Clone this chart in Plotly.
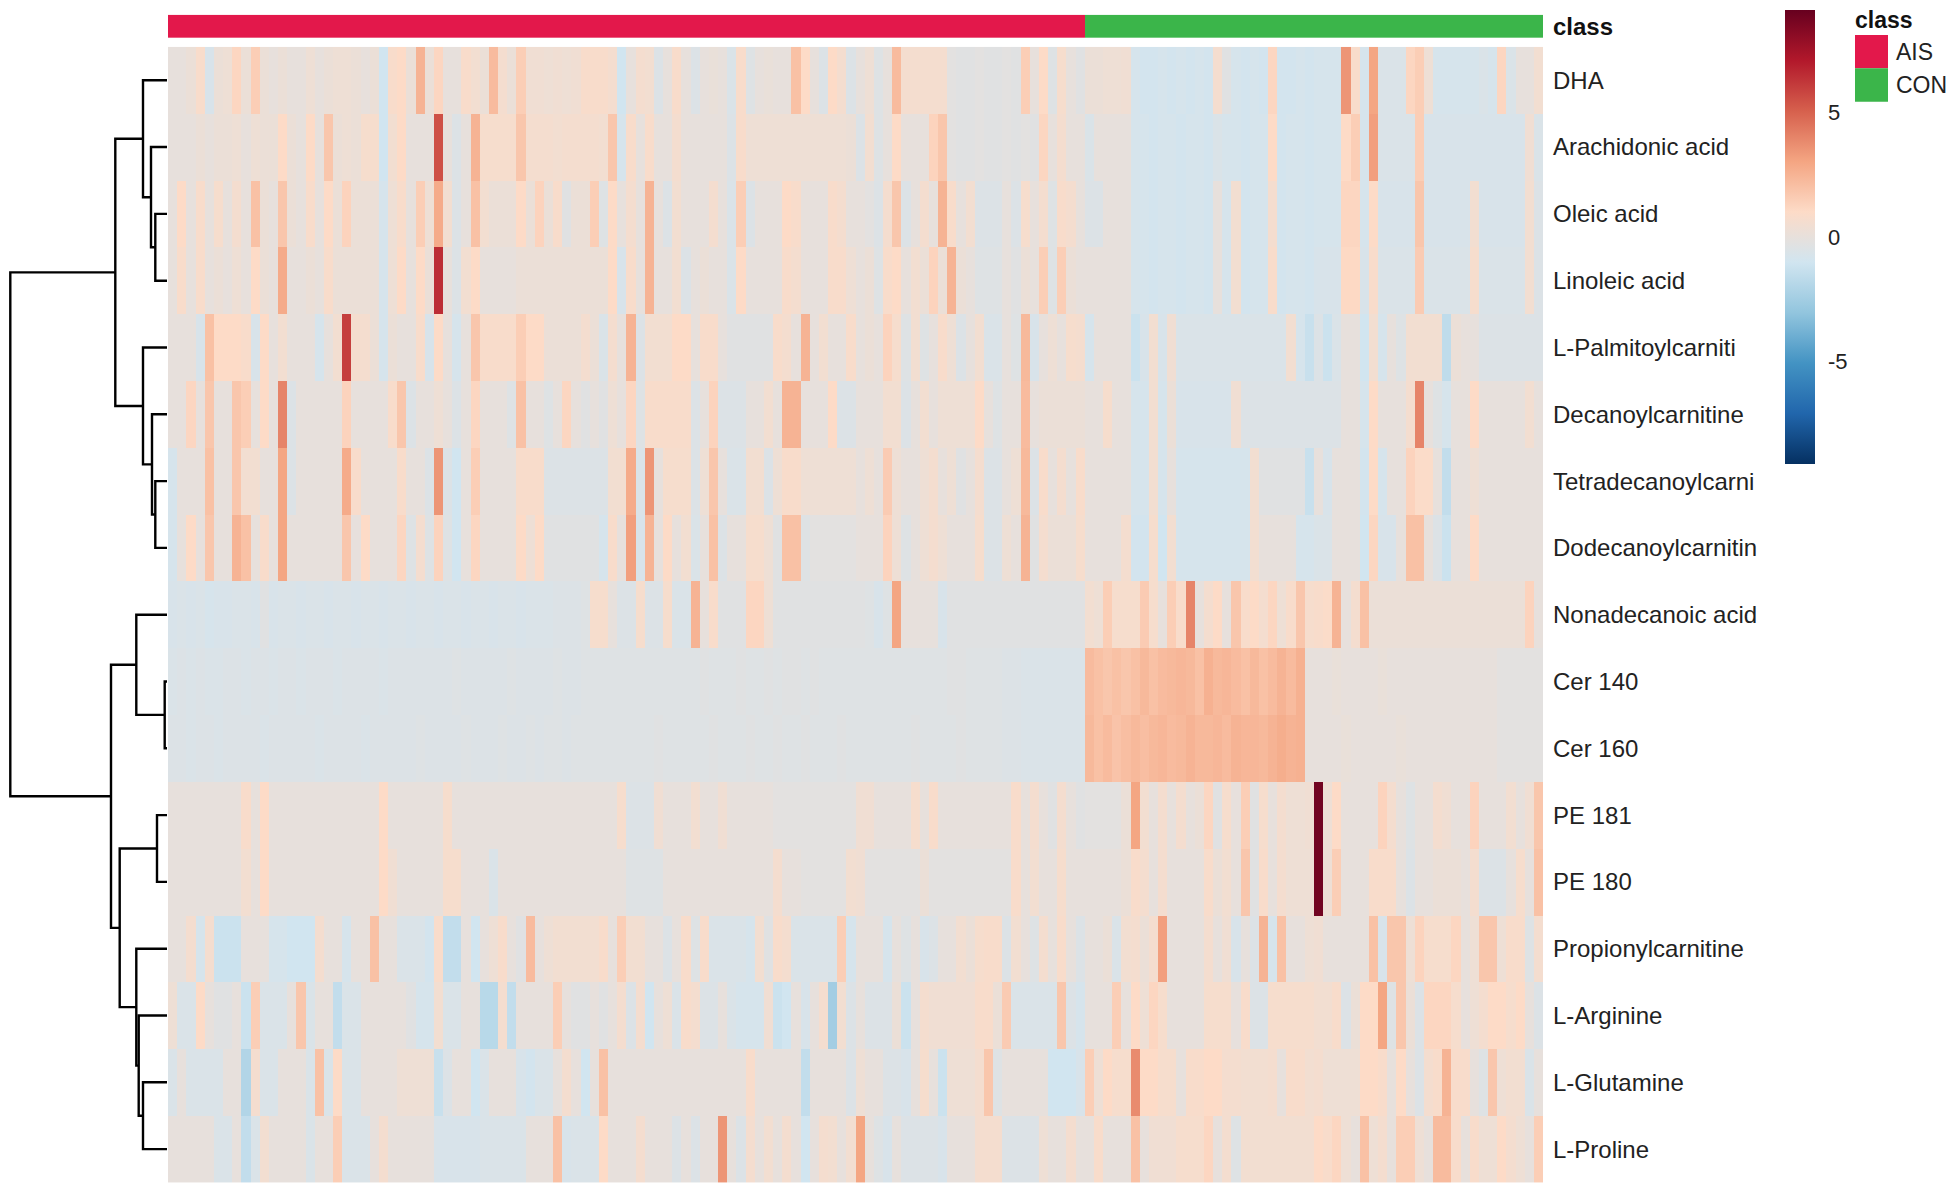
import plotly.graph_objects as go

# ---------------- data ----------------
row_labels = ["DHA", "Arachidonic acid", "Oleic acid", "Linoleic acid", "L-Palmitoylcarniti",
              "Decanoylcarnitine", "Tetradecanoylcarni", "Dodecanoylcarnitin", "Nonadecanoic acid",
              "Cer 140", "Cer 160", "PE 181", "PE 180", "Propionylcarnitine", "L-Arginine",
              "L-Glutamine", "L-Proline"]

n_ais = 100
n_con = 50
class_names = ["AIS", "CON"]
class_colors = ["#E3184B", "#3BB54A"]

dha = [0, 0, 0.2, 0.8, -0.7, 0.2, 0.3, 1.2, 0.2, 1.5, 0.2, 0, 0.2, 0, 0, 0.3, 0, 0.2, 0.3, 0.3, 0.2, 0, 0.2, -1, 0.8,
       1, 0.2, 2.5, 0.2, 1.2, 0, 0, 0.8, 0.5, 0.2, 2.2, 0.6, 0.2, 1.5, 0.4, 0.4, 0.3, 0.4, 0.3, 0.4, 0.8, 0.8, 0.8, 0.6, -1,
       0, 0.6, 0.5, -0.5, 0, 0.8, 0, -0.5, 0, 0.1, 0, -0.6, 0.8, -0.4, 0, 0.1, 0, 0, 2, 1, 0, -0.5, 1, 0.6, -0.5,
       0, 0.3, -0.4, 0, 2.2, 0.6, 0.6, 0.6, 0.6, 0.6, -0.2, -0.3, -0.3, -0.2, -0.3, -0.3, -0.2, -0.3, 1.5, 0, 1, -0.4, 0.7, 0, -0.3,
       0.2, 0.2, 0.3, 0.3, 0.4, -0.8, -0.9, -0.9, -0.8, -0.9, -0.8, -0.9, -0.8, -0.9, 0.6, -0.3, -0.8, -0.9, -0.8, -0.9, 1.2, -0.9, -0.9, -0.8, -0.9,
       -0.8, -0.8, -0.8, 3.5, 0.8, -0.8, 3, -0.6, -0.6, -0.6, 1.2, 1.5, 0.3, -0.8, -0.8, -0.8, -0.8, -0.8, -0.6, -0.8, 1.2, -0.6, 0, 0, 0.5]

arachidonic = [0, 0, 0, 0.2, 0, 0.2, 0.2, 0.3, 0, 0.3, 0.2, 0.2, 1, 0.2, 0, 1, 0, 1.8, 0.2, 0.3, 0.2, 0.7, 0.7, -1, 0.5,
               1, 0, 0, 0, 5.5, 0, -0.5, 0, 2.5, 0.7, 0.7, 0.7, 0.7, 1.8, 0.6, 0.6, 0.6, 0.5, 0.6, 0.6, 0.6, 0.6, 0.5, 1.8, -0.8,
               0.8, 0, 0.8, 0, 0, 0.6, 0, 0, 0, 0, 0, -0.5, 0.8, 0.3, 0.3, 0.3, 0.3, 0.3, 0.3, 0.3, 0.3, 0.3, 0.3, 0.3, 0.2,
               -0.5, 0.5, -0.4, 0, 1, 0, 0, 0, 1.3, 1.8, -0.2, -0.3, -0.3, -0.2, -0.3, -0.3, -0.2, -0.3, -0.2, -0.3, 1.2, 0, 0.6, 0, 0,
               -0.6, 0, 0, 0, 0, -0.8, -0.8, -0.9, -0.8, -0.8, -0.9, -0.8, -0.8, -0.9, -0.6, -0.8, -0.8, -0.9, -0.8, -0.8, 1, -0.9, -0.8, -0.8, -0.9,
               -0.8, -0.8, -0.8, 1, 1.5, -0.8, 3.2, -0.6, -0.6, -0.6, -0.6, 1.5, -0.7, -0.7, -0.7, -0.7, -0.7, -0.7, -0.7, -0.7, -0.7, -0.7, -0.7, 0.4, -0.6]

oleic = [0, 1, 0, 0.8, 0, 0.7, 0, 0.6, 0, 2, 0.2, 0, 1.8, 0.2, 0, 0.8, 0, 1, 0.2, 1.3, 0.2, 0.2, 0.2, -0.8, 0.3,
         0.8, 0, 1.5, 0.3, 2.8, 0.5, -0.5, 0, 2, 0.5, 0.2, 0.2, 0.2, 1, 0.2, 1.3, 0.2, 0.8, -0.3, 0.2, 0.2, 1.5, -0.4, 1, 0,
         0.6, 0, 2.5, 0, -0.5, 0.5, 0, 0, 0, 0.6, 0, -0.6, 1.5, -0.5, 0, 0, 0, 1, 0.8, 0, 0, 0, 0.8, 0.6, 0,
         0, -0.2, -0.5, 0.6, 1.8, -0.5, 0, 0.6, 0, 2.5, 0.8, 0, 0.5, -0.5, -0.5, -0.5, 0, -0.5, 0.7, 0, 0.6, -0.4, 0.8, 0.6, 0,
         -0.5, -0.5, 0, 0, 0, -0.8, -0.8, -0.9, -0.8, -0.8, -0.9, -0.8, -0.8, -0.9, 0, -0.8, 0.5, -0.9, -0.8, -0.8, 0.6, -0.9, -0.8, -0.8, -0.9,
         -0.8, -0.8, -0.8, 1.2, 1.2, -0.8, 1, -0.7, -0.7, -0.7, -0.7, 1.8, -0.7, -0.7, -0.7, -0.7, -0.7, 0.5, -0.7, -0.7, -0.7, -0.7, -0.7, 0.5, -0.5]

linoleic = [0, 0.8, 0, 0.8, 0, 0.2, 0, 0.3, 0, 1, 0.2, 0, 2.8, 0, 0, 0.2, 0, 0.8, 0.2, 0.2, 0.2, 0.2, 0.2, -0.8, 0.3,
            1, 0, 1, 0.2, 6.5, 0, -0.5, 0.5, 1, 0, 0, 0, 0, 0.2, 0.2, 0.2, 0.2, 0.2, 0.2, 0.2, 0.2, 0.2, 0.2, 1, -0.7,
            0.8, 0, 2.5, 0, 0, 0.5, -0.5, 0, 0.2, 0, 0, -0.6, 1, 0, 0, 0, 0, 0.8, 0.6, 0, 0, 0, 0.8, 0.8, 0.3,
            0, 0.2, -0.4, 0.8, 1, 0, 0.5, 0.2, 1.3, 0.2, 2.5, 0.2, 0, -0.4, -0.4, -0.4, 0, -0.3, 0.2, 0, 1.5, -0.4, 1.5, 0.2, 0,
            0, 0, 0, 0, 0, -0.8, -0.8, -0.9, -0.8, -0.8, -0.9, -0.8, -0.8, -0.9, 0, -0.8, 0.5, -0.9, -0.8, -0.8, 0.8, -0.9, -0.8, -0.8, -0.9,
            -0.7, -0.7, -0.7, 1.1, 1.1, -0.7, 0.8, -0.6, -0.6, -0.6, -0.6, 1.6, -0.6, -0.6, -0.6, -0.6, -0.6, 0.7, -0.6, -0.6, -0.6, -0.6, -0.6, 0.5, -0.5]

palmitoyl = [0, 0, 0, -0.7, 2, 1, 1, 1, 0.8, -0.7, 1, 0, 0.5, 0, 0, 0, -0.8, 0, 0.5, 6, 0.6, 0.6, 0.2, -0.8, 0.2,
             0, 0, 0.8, -0.7, 1, 0, -0.8, 0, 1.8, 0.8, 0.8, 0.8, 0.8, 1.5, 1, 1, 0.2, 0.2, 0.2, 0.2, 0.6, 0.2, -0.6, 0.6, 0,
             2.5, -0.5, 0.5, 0.5, 0.5, 1, 1, 0, 0.8, 0.8, 0, -0.3, -0.3, -0.3, -0.3, -0.3, 0.8, 0.6, 0, 2.5, 0, 0.5, 0, 0, 0.8,
             0, 0.2, 0, 1.3, 0.7, -0.4, 0.5, -0.4, 0, 0.8, 0.3, -0.5, 0, 0.5, -0.6, -0.6, 0, -0.4, 2.3, -0.7, 0, 0.3, 0, 0.7, 0.6,
             -0.8, 0, 0, 0, 0, -1.2, -0.7, 0.5, -0.7, 0.4, -0.6, -0.6, -0.6, -0.6, -0.6, -0.6, -0.6, -0.6, -0.6, -0.6, -0.6, -0.6, 0.5, -0.8, -1.3,
             -0.5, -1.2, -0.6, 0, 0, -1, 0.5, -0.8, 0, -0.4, 0.5, 0.5, 0.5, 0.5, -1.6, 0.2, 0, 0, -0.5, -0.5, -0.5, -0.5, -0.5, -0.5, -0.5]

decanoyl = [0, 0, 1.2, 0, 1.8, 0, 0, 1.8, 1.5, 0, 1, 0, 4, -0.5, 0, 0, 0, 0, 0, 1.3, 0, 0, 0, 0, 0.8,
            1.8, -0.5, 0, 0, 0.3, 0, -0.5, 0, 1.2, 0, 0, 0, -0.4, 2, 0, 0, -0.4, 0, 1.2, 0, -0.3, 0, -0.3, 0.3, 0,
            1.2, -0.4, 0.8, 0.8, 0.8, 0.8, 0.8, -0.5, 0, 1.3, -0.5, -0.5, -0.5, 0, 0, 0.5, 0, 2.5, 2.5, 0, 0, 0, 1, -0.5, -0.5,
            0, 0, 0, 0.5, 0.5, -0.5, 0, 0.5, 0, 0.3, 0.3, 0.3, 0.3, 1, 0, -0.4, 0, 0, 2.2, 0, 0.2, 0.2, 0.2, 0.2, 0.2,
            0, 0, 0.7, 0, 0, -0.8, -0.8, 0.5, -0.8, 0.2, -0.7, -0.7, -0.7, -0.7, -0.7, -0.7, 0.4, -0.5, -0.5, -0.5, -0.5, -0.5, -0.5, -0.5, -0.5,
            -0.5, -0.5, -0.5, 0, 0, -0.8, 1, 0, 0, 0, 0.6, 4, 0, -0.4, -0.8, 0, 0, 1, 0, 0, 0, 0, 0, 0.5, 0]

tetradecanoyl = [-0.8, 0, 0, 0, 2, 0, 0, 1.8, 0.5, 0.5, 0, 0, 3, -0.5, 0, 0, 0, 0, 0, 2.8, 0.8, 0, 0, 0, 0,
                 0.8, 0, 0, -0.5, 3.5, -0.5, -1, 0, 1.5, 0, 0, 0, 0, 0.8, 0.8, 0.8, -0.5, -0.5, -0.5, -0.5, -0.5, -0.5, -0.5, 0.5, 0.5,
                 2.8, -0.6, 3.5, 0, 0.7, 0.7, 0.7, -0.5, 0.3, 1.8, 0, -0.6, -0.6, 0.5, 0.5, -0.5, 0.3, 0.8, 0.8, 0.3, 0.3, 0.3, 0.3, 0.3, 0.3,
                 0, 0.3, 0, 1.6, 0.3, 0, 0, 0.3, 0.6, 0, 0.3, -0.3, 0, 0.6, -0.5, -0.5, 0, 0.3, 2.3, -0.5, 0.8, 0, 0.6, 0, 0.8,
                 0, 0, 0, 0, 0, -0.8, -0.8, 0.5, -0.8, 0, -0.8, -0.8, -0.8, -0.8, -0.8, -0.8, -0.8, -0.8, 0.5, -0.3, -0.3, -0.3, -0.3, -0.3, -1.3,
                 0, -0.7, 0, 0, 0, -0.9, 1, -0.8, 0, 0, 1.3, 0.9, 0.9, 0, -1.5, 0, 0, 0.3, 0, 0, 0, 0, 0, 0, 0]

dodecanoyl = [-0.8, 0, 1, 0, 1.8, 0, 0, 2.5, 2, 0, 0.8, 0, 3, 0, 0, 0, 0, 0, 0, 1.8, 0, 1, 0, 0, 0,
              1.2, -0.4, 0.6, -0.4, 1.3, -0.4, -1, 0, 1.2, 0, 0, 0, 0, 1, 0.3, 1, -0.3, -0.3, -0.3, -0.3, -0.3, -0.3, -0.8, 0.8, 0,
              3.2, -0.7, 2.5, 0, 1, 0, 0.5, -0.6, 0, 2, -0.5, 0, 0, 0.7, 0.7, 0.3, -0.3, 2, 2, -0.4, -0.2, -0.2, -0.2, -0.2, -0.2,
              0, 0, 0, 1.3, 0.3, -0.4, 0, 0.3, 0.6, 0.3, 0, 0, 0, 0.7, -0.5, -0.5, 0.3, 0, 2.5, -0.3, 0.6, 0.2, 0.2, 0.2, 0.7,
              0, 0, 0, 0, 0.6, -0.9, -0.9, 0.7, -1, 0.5, -0.8, -0.8, -0.8, -0.8, -0.8, -0.8, -0.8, -0.8, 0.5, 0, 0, 0, 0, -0.8, -0.8,
              -0.6, -0.6, 0, 0, 0, -1, 1.2, -0.7, -0.7, 0, 2, 2, 0, -0.5, -1.2, 0, 0, 1, 0, 0, 0, 0, 0, 0, 0]

nonadecanoic = [-0.7, -0.6, -0.7, -0.6, -0.8, -0.7, -0.7, -0.6, -0.6, -0.7, -0.3, -0.7, -0.6, -0.6, -0.7, -0.6, -0.6, -0.7, -0.6, -0.6, -0.7, -0.6, -0.6, -0.7, -0.6,
                -0.6, -0.7, -0.6, -0.6, -0.7, -0.6, -0.6, -0.7, -0.6, -0.6, -0.7, -0.6, -0.6, -0.7, -0.6, -0.6, -0.6, -0.5, -0.5, -0.5, -0.4, 0.7, 0.7, 0, -0.5,
                -0.5, 0.7, -0.5, -0.5, 0.7, -0.6, -0.6, 2.5, 0, 0.8, -0.3, -0.3, -0.3, 1.2, 1.2, 0.3, -0.3, -0.3, -0.3, -0.3, -0.3, -0.3, -0.3, -0.3, -0.3,
                -0.3, -0.4, -0.7, -0.4, 3, 0, 0, 0, 0, -0.7, -0.3, -0.3, -0.3, -0.3, -0.3, -0.3, -0.3, -0.3, -0.3, -0.3, -0.3, -0.3, -0.3, -0.3, -0.3,
                0.5, 0.3, 1.5, 0.7, 0.7, 0.7, 1.6, 0.7, 0, 1.5, 0.8, 4, 0, 0.6, 1, 0, 1.8, 0.8, 1, 0.6, 1.2, 0.3, 0.8, 1.8, 0.7,
                0.8, 0.9, 2.5, 0, 0.6, 2, 0.2, 0.2, 0.2, 0.2, 0.2, 0.2, 0.2, 0.2, 0.2, 0.2, 0.2, 0.2, 0.2, 0.2, 0.2, 0.2, 0.2, 1.3, 0]

cer140 = [-0.6, -0.5, -0.6, -0.5, -0.6, -0.6, -0.5, -0.5, -0.6, -0.5, -0.5, -0.6, -0.5, -0.5, -0.6, -0.5, -0.5, -0.5, -0.6, -0.5, -0.5, -0.5, -0.5, -0.6, -0.5,
          -0.5, -0.5, -0.5, -0.5, -0.5, -0.5, -0.4, -0.5, -0.5, -0.5, -0.5, -0.5, -0.4, -0.5, -0.5, -0.5, -0.5, -0.4, -0.5, -0.5, -0.4, -0.4, -0.4, -0.4, -0.4,
          -0.4, -0.4, -0.4, -0.4, -0.4, -0.4, -0.4, -0.4, -0.3, -0.4, -0.4, -0.4, -0.3, -0.4, -0.4, -0.3, -0.4, -0.3, -0.3, -0.4, -0.3, -0.4, -0.4, -0.4, -0.4,
          -0.4, -0.4, -0.4, -0.4, -0.4, -0.4, -0.4, -0.4, -0.4, -0.4, -0.3, -0.3, -0.4, -0.4, -0.4, -0.4, -0.5, -0.5, -0.6, -0.6, -0.6, -0.6, -0.6, -0.6, -0.6,
          2.2, 2, 1.8, 2, 1.8, 2, 2.3, 2, 2.2, 2.3, 2.4, 2.3, 2, 2.6, 2.3, 2.4, 2.2, 2, 2.3, 2, 2.2, 2.5, 2.2, 2.6, 0,
          0, 0, 0.1, 0, 0, 0, 0, 0.1, 0, 0, 0, 0, 0, 0, 0, 0, 0, 0, 0, 0, -0.2, -0.2, -0.2, -0.2, -0.2]

cer160 = [-0.5, -0.5, -0.6, -0.5, -0.5, -0.6, -0.5, -0.5, -0.5, -0.5, -0.6, -0.5, -0.5, -0.5, -0.5, -0.5, -0.6, -0.5, -0.5, -0.5, -0.5, -0.6, -0.5, -0.5, -0.5,
          -0.5, -0.5, -0.4, -0.5, -0.5, -0.5, -0.5, -0.4, -0.5, -0.5, -0.5, -0.4, -0.5, -0.5, -0.4, -0.5, -0.4, -0.4, -0.5, -0.4, -0.4, -0.4, -0.4, -0.4, -0.4,
          -0.4, -0.4, -0.4, -0.3, -0.4, -0.4, -0.4, -0.4, -0.4, -0.3, -0.4, -0.4, -0.4, -0.3, -0.4, -0.4, -0.3, -0.4, -0.4, -0.3, -0.4, -0.4, -0.4, -0.3, -0.4,
          -0.4, -0.4, -0.4, -0.4, -0.4, -0.4, -0.3, -0.4, -0.4, -0.4, -0.4, -0.3, -0.4, -0.4, -0.4, -0.4, -0.5, -0.5, -0.6, -0.6, -0.6, -0.6, -0.6, -0.6, -0.6,
          2.3, 2, 2.2, 1.9, 2.1, 2.3, 2.1, 2.3, 2.4, 2.2, 2.3, 2.5, 2.3, 2.3, 2.4, 2.2, 2.5, 2.4, 2.4, 2.3, 2.5, 2.7, 2.5, 2.6, 0,
          0, 0, 0, 0.1, 0, 0, 0, 0, 0, 0.1, 0, 0, 0, 0, 0, 0, 0, 0, 0, 0, -0.2, -0.2, -0.2, -0.2, -0.2]

pe181 = [0, 0, 0, 0, 0, 0, 0, 0, 0.8, 0, 1, 0, 0, 0, 0, 0, 0, 0, 0, 0, 0, 0, 0, 1, 0,
         0, 0, 0, 0, 0, 0.7, 0, 0, 0, 0, 0, 0, 0, 0, 0, 0, 0, 0, 0, 0, 0, 0, 0, 0, 0.7,
         -0.5, -0.5, -0.5, 0.4, 0, 0, 0, 0.5, 0, 0, 0.4, 0, 0, 0, 0, 0, -0.2, -0.2, -0.2, -0.2, -0.2, -0.2, -0.2, -0.2, -0.2,
         0.4, 0.4, 0, 0, 0, 0, 0.7, 0, 0.8, 0, 0, 0, 0, 0, 0, 0, 0, 0.8, 0, 0.6, 0, -0.3, 0.6, 0, -0.3,
         -0.2, -0.2, -0.2, -0.2, 0.2, 3, 0.5, 0, 0.6, 0, 0.6, 0, 0.2, 1.2, -0.3, 0.7, 0, 1.5, -0.3, 0.7, 0, 0.6, 0.3, 0.3, 0.4,
         8.8, 0.3, 1, 0, 0, 0, 0, 1.3, 0.6, 0, -0.4, 0, 0, 0.6, 0.4, 0, 0, 1.3, 0, 0, 0, 0.5, 0, 0.4, 1.8]

pe180 = [0, 0, 0, 0, 0, 0, 0, 0, 0.5, 0, 1, 0, 0, 0, 0, 0, 0, 0, 0, 0, 0, 0, 0, 1, 0.4,
         0, 0, 0, 0, 0, 0.7, 0.7, 0, 0, 0, -0.6, 0, 0, 0, 0, 0, 0, 0, 0, 0, 0, 0, 0, 0, 0,
         -0.4, -0.4, -0.4, -0.4, 0, 0, 0, 0, 0, 0, 0, 0, 0, 0, 0, 0, 0.6, 0, 0, -0.2, -0.2, -0.2, -0.2, -0.2, 0.5,
         0.4, -0.2, -0.2, -0.2, -0.2, -0.2, -0.2, 0.2, -0.2, -0.2, -0.2, -0.2, -0.2, -0.2, -0.2, -0.2, -0.2, 0.8, 0, 0.5, 0, 0, 0.7, 0, 0,
         0, 0, 0, 0, 0.2, 0.8, 0.6, 0, 0.6, 0, 0, 0, 0, 0.8, 0.2, 0.5, 0, 1.8, -0.3, 0.8, 0, 0.6, 0.3, 0.3, 0.3,
         8.8, 0.3, 1.5, 0, 0, 0, 0.8, 0.8, 0.8, 0, -0.5, 0, 0, 0.2, 0.2, 0.2, 0, 0.6, -0.5, -0.5, -0.5, 0, 0.7, 0, 2]

propionyl = [0, 0, 0.6, -0.8, 0.6, -1.2, -1.2, -1.2, 0, 0, 0, -0.8, -0.8, -1, -1, -1, 0.6, 0, 0, -0.8, 0, 0, 2, 0, 0,
             -0.6, -0.6, -0.6, -0.9, 0.8, -1.5, -1.5, 0, -1, 0, 0.3, 0.8, 0, -0.3, 2.2, 0, 0.3, 0.5, 0.5, 0.5, 0.5, 0.5, 0.8, 0, 1.5,
             0.5, 0.5, 0, 0, -0.5, 0, 0.8, -0.4, 0.8, -0.6, -0.6, -0.6, -0.6, -0.8, 0.5, -0.3, 0.8, 0.6, -0.6, -0.6, -0.6, -0.6, -0.6, 1.5, -0.8,
             0, 0, 0, -0.8, 0, -0.4, 0, -0.7, -0.5, 0, 0, 0.5, 0.2, 0.7, 0.8, 0.8, -0.5, 0.5, 0, -0.4, 0.6, 0, 0.8, 0, -0.5,
             0, 0, 0.2, -0.6, 0.5, 0.6, 0.2, 0.6, 3.2, 0, 0, 0, 0, 0.6, 0, 0.4, -0.7, 0, -0.5, 2.5, -0.8, 2, 0, 0, 0.3,
             0.4, 0, 0, 0, 0, 0, 2, -0.7, 1.8, 1.8, 0.3, 1.3, 0.7, 0.7, 0.7, 1.2, 0, 0.3, 1.8, 1.8, 0.3, 0.8, 0.8, -0.4, 0.6]

arginine = [0.3, -0.6, -0.6, 1, 0, -0.3, -0.3, 0, -1.2, 1.5, -0.6, -0.6, -0.6, 0, 1.8, -0.6, 0, 0, -1.5, -0.6, -0.6, 0, 0, 0, 0,
            0, -0.3, -0.8, -0.8, 0.5, -0.6, -0.6, 0, 0, -1.8, -1.8, 0.6, -1.5, 0, 0, 0, 0, 1.5, 0, -0.3, -0.3, 0, -0.3, 0, 0.6,
            -0.5, 0.6, -1, 0, 0.3, -0.6, 0.8, 0.6, -0.5, -0.5, 0, -0.6, -0.8, -0.8, -0.8, 0.4, -1.2, -1, 0, -0.7, 0, 0.6, -2.5, 0.5, -0.5,
            0, -0.5, -0.5, -0.5, 0.2, -1.2, 0, 0.6, 0.4, 0.4, 0.4, 0.4, 0.4, 0.8, 0.8, 0.2, 1.6, -0.6, -0.6, -0.6, -0.6, -0.6, 1.8, -0.5, -0.8,
            0, 0, 0, 1.5, 0, 1, 0.3, 1.2, 0.7, 0, 0, 0, 0, 0.7, 0.7, 0.7, 0, 0.8, -0.5, -0.5, 0.7, 0.7, 0.7, 0.7, 0.7,
            0.5, 0.5, 0.8, -0.5, 0.2, 1, 1, 3, -0.4, 1.8, 0.2, -0.5, 1.2, 1.2, 1.2, 0.7, 0, 0.3, 0.6, 1, 1, 0.7, 1, 0, -0.5]

glutamine = [-0.6, 0, -0.6, -0.6, -0.6, -0.6, 0, 0, -2, 0.6, -0.6, -0.6, 0, 0, 0, -0.6, 2, -0.6, 1, -0.6, -0.6, 0, 0, 0, 0,
             0.3, 0.3, 0.3, 0.3, -1.3, -0.5, 0, 0, -1, -0.6, 0, 0, 0, -0.7, -0.9, -0.6, -0.6, 0, 0.6, 0, -1, 0, 2, 0, 0,
             0, 0, 0, 0, 0, 0, 0, 0, 0, 0, 0, 0, 0, 0.8, 0, 0, 0, 0, 0, -1.5, 0, 0, 0, 0, -0.5,
             0.3, 0, 0, -0.5, -0.5, -0.7, 0, 0.7, 0, -1.2, 0.3, 0.3, 0.3, 0.6, 1.8, -0.4, 0, 0, 0, 0, 0, -1, -1, -1, -0.7,
             1.5, 0.3, 1, 0.7, 0.7, 3.8, 1, 1, 0.7, 0.7, 0, 0.8, 0.8, 1, 1, 0.6, 0.6, 0.5, 0.5, 0.5, 0.6, 0, 0.8, 0.8, 0.5,
             0.6, 0.3, 0.3, 0.3, 0.3, 1, 1, 0.8, 0, 1, 0, -0.5, 0.6, 0.8, 2.5, 0.8, 0.8, 0, -0.4, 1.8, 0.3, 0.5, 0.5, -0.6, 0]

proline = [0, 0, 0, 0, 0, -0.6, -0.6, 0, -1.5, -0.6, 0.5, 0, 0, 0, 0, -0.6, 0, 0, 1.5, -0.6, -0.6, -0.6, 0, 0.6, 0,
           0, 0, 0, 0, -0.7, -0.7, -0.7, -0.7, -0.7, -0.6, -0.6, -0.6, -0.6, -0.6, 0, 0, 0, 2, -0.7, -0.6, -0.6, -0.6, 1, 0, 0,
           0, 0.6, 0, 0, 0, -0.5, 0, -0.5, 0, 0, 3.5, 0, -0.5, 0.6, 0, 0.5, 0, 0.6, 0, -1, 0, 0.6, 0.5, 0, 0.5,
           3, 0, -0.4, -0.7, 0, -0.5, -0.5, -0.5, -0.5, -0.7, 0, 0, 0, 0.6, 0.6, 0.6, -0.5, -0.5, -0.5, -0.5, 0.3, 0, 0, 0.6, 0,
           0, 0.8, 0, 0, 0, 2, 0, 0.4, 0.4, 0.4, 0.7, 0.7, 0.7, 1.2, 0, 0.6, -0.4, 0.5, 0.5, 0.5, 0.5, 0.5, 0.5, 0.5, 0.5,
           1, 0.8, 1.2, 0.3, 0, 2, 0.3, 0.6, 0, 1.5, 1.5, 0.3, 0, 2.2, 2.2, 0.8, 0, 0.8, 0.3, 0.3, 1, 0.6, 0.3, 0, 1.5]

# hierarchical clustering of rows: (child a, child b, merge height); new node ids start at 17
row_merges = [
    (2, 3, 11.7), (1, 17, 16.0), (0, 18, 24.0),
    (6, 7, 11.7), (5, 20, 15.0), (4, 21, 24.0),
    (19, 22, 51.7),
    (9, 10, 2.3), (8, 24, 30.7),
    (11, 12, 10.0), (15, 16, 24.0), (14, 27, 28.3), (13, 28, 30.7),
    (26, 29, 47.3), (25, 30, 56.0),
    (23, 31, 156.7),
]

z_min, z_max = -9.1, 9.1
colorbar_ticks = [-5, 0, 5]

# ---------------- build ----------------
matrix = [dha, arachidonic, oleic, linoleic, palmitoyl, decanoyl, tetradecanoyl, dodecanoyl,
          nonadecanoic, cer140, cer160, pe181, pe180, propionyl, arginine, glutamine, proline]
n_rows = len(matrix)
n_cols = len(matrix[0])
class_codes = [0] * n_ais + [1] * n_con

# the page body has an 8px margin; figure is sized to fit the window inside it
PAGE_MARGIN = 8
W, H = 1955 - 2 * PAGE_MARGIN, 1197 - 2 * PAGE_MARGIN
FONT = "Liberation Sans, Arial, sans-serif"


def fx(p):
    return (p - PAGE_MARGIN) / W


def fy(p):
    return 1 - (p - PAGE_MARGIN) / H


rdbu = ["#053061", "#2166AC", "#4393C3", "#92C5DE", "#D1E5F0",
        "#FDDBC7", "#F4A582", "#D6604D", "#B2182B", "#67001F"]
colorscale = [[i / (len(rdbu) - 1), c] for i, c in enumerate(rdbu)]

fig = go.Figure()

fig.add_trace(go.Heatmap(
    z=matrix, x=list(range(n_cols)), y=list(range(n_rows)),
    zmin=z_min, zmax=z_max, colorscale=colorscale, xaxis="x", yaxis="y",
    colorbar=dict(
        x=fx(1785), xanchor="left", xpad=0,
        y=fy(8), yanchor="top", ypad=0,
        len=454, lenmode="pixels", thickness=30, thicknessmode="pixels",
        outlinewidth=0, tickvals=colorbar_ticks, ticktext=[str(t) for t in colorbar_ticks],
        ticks="outside", ticklen=9, tickcolor="rgba(0,0,0,0)",
        tickfont=dict(family=FONT, size=22, color="#222222"),
    ),
))

fig.add_trace(go.Heatmap(
    z=[class_codes], x=list(range(n_cols)), y=[0],
    zmin=0, zmax=1, showscale=False,
    colorscale=[[0, class_colors[0]], [0.5, class_colors[0]], [0.5, class_colors[1]], [1, class_colors[1]]],
    xaxis="x", yaxis="y3",
))

# dendrogram lines
node_pos = {i: (0.0, float(i)) for i in range(n_rows)}
dx, dy = [], []
for k, (a, b, h) in enumerate(row_merges):
    ha, ya = node_pos[a]
    hb, yb = node_pos[b]
    dx += [ha, h, h, hb, None]
    dy += [ya, ya, yb, yb, None]
    node_pos[n_rows + k] = (h, (ya + yb) / 2)

fig.add_trace(go.Scatter(x=dx, y=dy, mode="lines", xaxis="x2", yaxis="y",
                         line=dict(color="black", width=2.4), hoverinfo="skip",
                         showlegend=False))

left, right = 168, 1543
top, bottom = 45, 1184.5

fig.update_layout(
    width=W, height=H, autosize=False,
    margin=dict(l=0, r=0, t=0, b=0),
    paper_bgcolor="white", plot_bgcolor="white",
    showlegend=False,
    xaxis=dict(domain=[fx(left), fx(right)], range=[-0.5, n_cols - 0.5], visible=False, anchor="y"),
    yaxis=dict(domain=[fy(bottom), fy(top)], range=[n_rows - 0.5, -0.5], anchor="x",
               side="right", tickmode="array", tickvals=list(range(n_rows)), ticktext=row_labels,
               showgrid=False, zeroline=False, showline=False, ticks="", ticklabelstandoff=9,
               tickfont=dict(family=FONT, size=24, color="#222222")),
    xaxis2=dict(domain=[fx(PAGE_MARGIN), fx(left - 1)], range=[left - 1 - PAGE_MARGIN, 0],
                visible=False, anchor="y"),
    yaxis3=dict(domain=[fy(36), fy(12.7)], range=[-0.5, 0.5], anchor="x",
                side="right", tickmode="array", tickvals=[0], ticktext=["<b>class</b>"],
                showgrid=False, zeroline=False, showline=False, ticks="", ticklabelstandoff=9,
                tickfont=dict(family=FONT, size=24, color="#111111")),
)

# class legend
fig.add_annotation(x=fx(1853), y=fy(18), xref="paper", yref="paper", xanchor="left", yanchor="middle",
                   text="<b>class</b>", showarrow=False, font=dict(family=FONT, size=23, color="#111111"))
for i, (name, col) in enumerate(zip(class_names, class_colors)):
    y0, y1 = 33 + 33.5 * i, 33 + 33.5 * (i + 1)
    fig.add_shape(type="rect", xref="paper", yref="paper", x0=fx(1855), x1=fx(1888),
                  y0=fy(y1), y1=fy(y0), fillcolor=col, line=dict(width=0))
    fig.add_annotation(x=fx(1894), y=fy((y0 + y1) / 2), xref="paper", yref="paper",
                       xanchor="left", yanchor="middle", text=name, showarrow=False,
                       font=dict(family=FONT, size=23, color="#222222"))

fig.write_html("out.html")
